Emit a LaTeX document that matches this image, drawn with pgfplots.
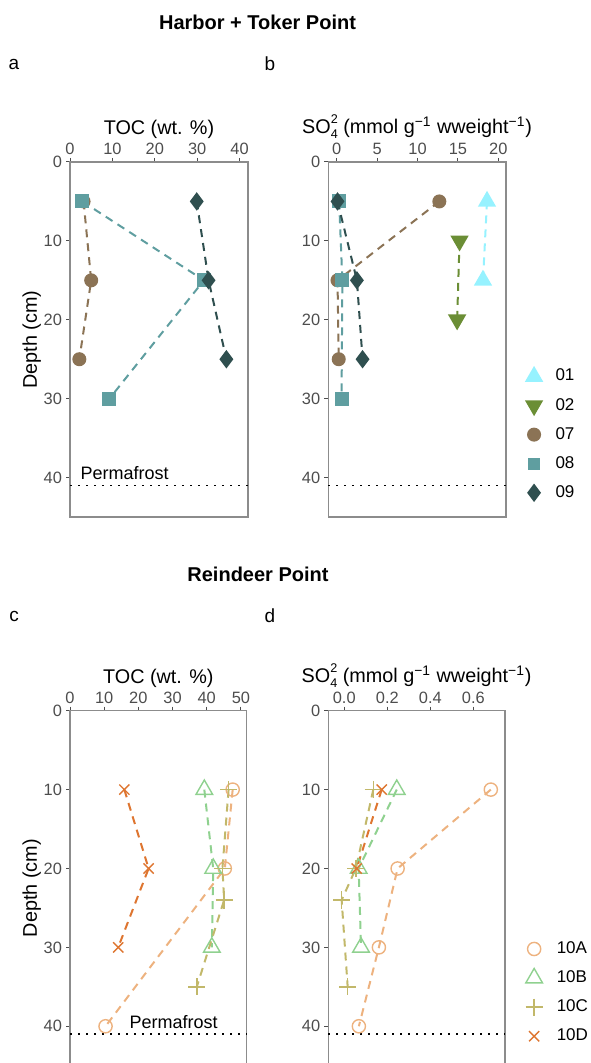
\documentclass[border=0pt]{standalone}
\usepackage{fontspec}
\setmainfont{Liberation Sans}
\usepackage{pgfplots}
\pgfplotsset{compat=1.18}

\definecolor{c01}{HTML}{96F2FF}
\definecolor{c02}{HTML}{6B8E35}
\definecolor{c07}{HTML}{8B7355}
\definecolor{c08}{HTML}{5F9EA0}
\definecolor{c09}{HTML}{2F4F4F}
\definecolor{c10A}{HTML}{EDB27F}
\definecolor{c10B}{HTML}{8FD18F}
\definecolor{c10C}{HTML}{C2B86A}
\definecolor{c10D}{HTML}{DE7530}
\definecolor{tickgray}{HTML}{4D4D4D}
\definecolor{framegray}{HTML}{8C8C8C}

\pgfplotsset{
  profile/.style={
    scale only axis, height=177.5pt,
    y dir=reverse, ymin=0, ymax=45, ytick={0,10,20,30,40},
    xtick pos=upper, xticklabel pos=upper,
    ytick pos=lower, yticklabel pos=lower,
    tick align=outside, major tick length=2pt,
    tick style={color=tickgray, line width=0.5pt},
    axis line style={color=framegray, line width=0.6pt},
    ticklabel style={font=\fontsize{8.2}{9}\selectfont, color=tickgray},
    xticklabel shift=-2pt, yticklabel shift=-1.5pt,
    xlabel shift=-4.5pt, ylabel shift=-5.5pt,
    /pgf/number format/assume math mode=true,
    label style={font=\fontsize{9.9}{11}\selectfont},
    scaled ticks=false, clip=false,
    every axis plot/.append style={line width=1pt, dash pattern=on 4pt off 3pt},
    legend style={draw=none, fill=none, font=\fontsize{8.5}{10}\selectfont,
      row sep=3.1pt, cells={anchor=west},
      /tikz/every odd column/.append style={column sep=5pt}},
    legend cell align=left,
  },
  perma/.style={forget plot, black, line width=0.8pt, dash pattern=on 0.9pt off 3.1pt},
}

\newcommand{\sofour}{SO\rlap{\raisebox{-0.45ex}{\fontsize{6.3}{6.3}\selectfont 4}}\raisebox{0.95ex}{\fontsize{6.3}{6.3}\selectfont 2} (mmol g\textsuperscript{−1} wweight\textsuperscript{−1})}

\begin{document}
\begin{tikzpicture}
\useasboundingbox (0,0) rectangle (295pt,-531.5pt);

\node[font=\bfseries\fontsize{10}{12}\selectfont] at (128.75pt,-11pt) {Harbor + Toker Point};
\node[font=\fontsize{9.5}{11}\selectfont] at (7pt,-32pt) {a};
\node[font=\fontsize{9.5}{11}\selectfont] at (135pt,-32pt) {b};
\node[font=\bfseries\fontsize{10}{12}\selectfont] at (129pt,-287pt) {Reindeer Point};
\node[font=\fontsize{9.5}{11}\selectfont] at (7pt,-308pt) {c};
\node[font=\fontsize{9.5}{11}\selectfont] at (135pt,-308pt) {d};

% ---------- a ----------
\begin{axis}[profile, width=89pt, at={(35pt,-81pt)}, anchor=north west,
  xmin=0, xmax=42, xtick={0,10,20,30,40},
  xlabel={TOC (wt. \%)}, ylabel={Depth (cm)}]
\addplot[c07, mark=*, mark size=3pt, mark options={solid, fill=c07}] coordinates {(3.2,5) (5.0,15) (2.2,25)};
\addplot[c08, mark=square*, mark size=3pt, mark options={solid, fill=c08}] coordinates {(2.9,5) (31.6,15) (9.3,30)};
\addplot[c09, mark=diamond*, mark size=3.8pt, mark options={solid, fill=c09}] coordinates {(29.9,5) (32.7,15) (36.9,25)};
\addplot[perma] coordinates {(0,41) (42,41)};
\node[anchor=west, font=\fontsize{9}{11}\selectfont, inner sep=0pt] at (axis cs:2.4,39.4) {Permafrost};
\end{axis}

% ---------- b ----------
\begin{axis}[profile, width=88.85pt, at={(164.15pt,-81pt)}, anchor=north west,
  xmin=-1.04, xmax=20.95, xtick={0,5,10,15,20},
  xlabel={\sofour},
  legend style={at={(1.08,0.232)}, anchor=west}]
\addplot[forget plot, c01, mark=triangle*, mark size=4.3pt, mark options={solid, fill=c01}] coordinates {(18.6,5) (18.1,15)};
\addplot[forget plot, c02, mark=triangle*, mark size=4.3pt, mark options={solid, fill=c02, rotate=180}] coordinates {(15.2,10) (14.9,20)};
\addplot[forget plot, c07, mark=*, mark size=3pt, mark options={solid, fill=c07}] coordinates {(12.7,5) (0.1,15) (0.25,25)};
\addplot[forget plot, c08, mark=square*, mark size=3pt, mark options={solid, fill=c08}] coordinates {(0.3,5) (0.7,15) (0.6,30)};
\addplot[forget plot, c09, mark=diamond*, mark size=3.8pt, mark options={solid, fill=c09}] coordinates {(0.1,5) (2.5,15) (3.2,25)};
\addplot[perma] coordinates {(-1.04,41) (20.95,41)};
\addlegendimage{only marks, c01, mark=triangle*, mark size=4.3pt, mark options={solid, fill=c01}}
\addlegendentry{01}
\addlegendimage{only marks, c02, mark=triangle*, mark size=4.3pt, mark options={solid, fill=c02, rotate=180}}
\addlegendentry{02}
\addlegendimage{only marks, c07, mark=*, mark size=3pt, mark options={solid, fill=c07}}
\addlegendentry{07}
\addlegendimage{only marks, c08, mark=square*, mark size=2.6pt, mark options={solid, fill=c08}}
\addlegendentry{08}
\addlegendimage{only marks, c09, mark=diamond*, mark size=3.8pt, mark options={solid, fill=c09}}
\addlegendentry{09}
\end{axis}

% ---------- c ----------
\begin{axis}[profile, width=88.35pt, at={(35pt,-355.35pt)}, anchor=north west,
  xmin=0, xmax=51.7, xtick={0,10,20,30,40,50},
  xlabel={TOC (wt. \%)}, ylabel={Depth (cm)}]
\addplot[c10A, mark=o, mark size=3.3pt, mark options={solid, line width=0.7pt}] coordinates {(47.6,10) (45.3,20) (10.4,40)};
\addplot[c10B, mark=triangle, mark size=4.8pt, mark options={solid, line width=0.7pt}] coordinates {(39.3,10) (41.9,20) (41.5,30)};
\addplot[c10C, mark=+, mark size=4.3pt, mark options={solid, line width=0.7pt}] coordinates {(46.4,10) (44.6,20) (45.1,24) (37.1,35)};
\addplot[c10D, mark=x, mark size=3.6pt, mark options={solid, line width=0.7pt}] coordinates {(15.9,10) (23.0,20) (14.1,30)};
\addplot[perma] coordinates {(0,41) (51.7,41)};
\node[anchor=west, font=\fontsize{9}{11}\selectfont, inner sep=0pt] at (axis cs:17.3,39.5) {Permafrost};
\end{axis}

% ---------- d ----------
\begin{axis}[profile, width=88.35pt, at={(164.15pt,-355.35pt)}, anchor=north west,
  xmin=-0.074, xmax=0.747, xtick={0,0.2,0.4,0.6}, xticklabels={0.0,0.2,0.4,0.6},
  xlabel={\sofour},
  legend style={at={(1.08,0.206)}, anchor=west}]
\addplot[forget plot, c10A, mark=o, mark size=3.3pt, mark options={solid, line width=0.7pt}] coordinates {(0.681,10) (0.248,20) (0.161,30) (0.068,40)};
\addplot[forget plot, c10B, mark=triangle, mark size=4.8pt, mark options={solid, line width=0.7pt}] coordinates {(0.244,10) (0.067,20) (0.078,30)};
\addplot[forget plot, c10C, mark=+, mark size=4.3pt, mark options={solid, line width=0.7pt}] coordinates {(0.135,10) (0.054,20) (-0.012,24) (0.016,35)};
\addplot[forget plot, c10D, mark=x, mark size=3.6pt, mark options={solid, line width=0.7pt}] coordinates {(0.174,10) (0.058,20)};
\addplot[perma] coordinates {(-0.074,41) (0.747,41)};
\addlegendimage{only marks, c10A, mark=o, mark size=3.3pt, mark options={solid, line width=0.7pt}}
\addlegendentry{10A}
\addlegendimage{only marks, c10B, mark=triangle, mark size=4.8pt, mark options={solid, line width=0.7pt}}
\addlegendentry{10B}
\addlegendimage{only marks, c10C, mark=+, mark size=4.3pt, mark options={solid, line width=0.7pt}}
\addlegendentry{10C}
\addlegendimage{only marks, c10D, mark=x, mark size=3.6pt, mark options={solid, line width=0.7pt}}
\addlegendentry{10D}
\end{axis}
\end{tikzpicture}
\end{document}
